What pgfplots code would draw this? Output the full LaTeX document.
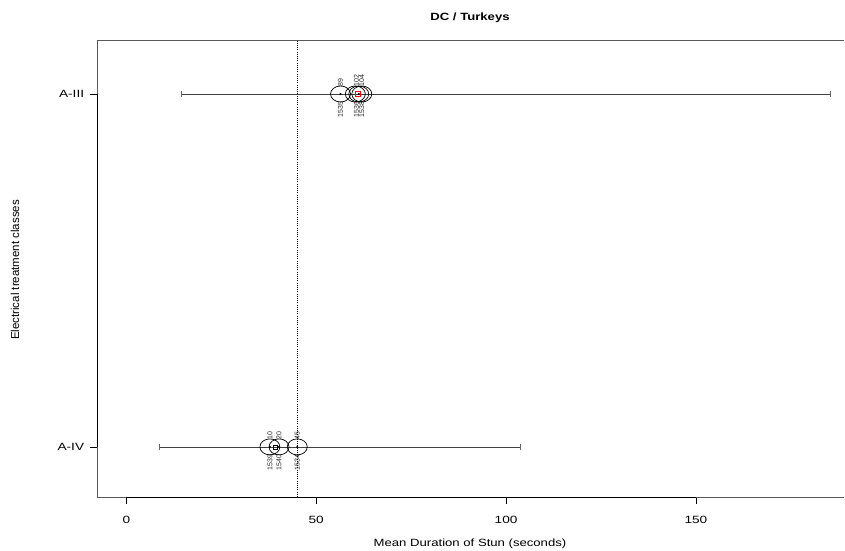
\documentclass[border=0pt]{standalone}
\usepackage{fontspec}
\setmainfont{Liberation Sans}
\usepackage{pgfplots}
\pgfplotsset{compat=1.18}
\begin{document}
\begin{tikzpicture}[x=1pt,y=1pt]
\begin{axis}[
  at={(0,0)}, anchor=south west,
  scale only axis, width=747pt, height=457pt,
  xmin=-7.74, xmax=189, ymin=0.858, ymax=2.153,
  axis x line=box, axis y line=left,
  axis line style={-, black!65, line width=0.6pt},
  xtick={0,50,100,150}, xtick pos=bottom,
  ytick={1,2}, yticklabels={A-IV,A-III},
  tick align=outside, major tick length=7pt,
  tick style={black, line width=0.6pt},
  tick label style={font=\fontsize{10.5}{12}\selectfont, xscale=1.3},
  xticklabel style={yshift=-8.5pt},
  yticklabel style={xshift=-1pt},
  /pgf/number format/assume math mode=true,
  clip=false,
]
% emphasised axis segments
\draw[black, line width=0.8pt] (axis cs:-7.74,1) -- (axis cs:-7.74,2);
\draw[black, line width=0.8pt] (axis cs:0,0.858) -- (axis cs:150,0.858);
% reference line
\addplot[black, line width=0.5pt, dash pattern=on 1pt off 1.2pt] coordinates {(44.9,0.858) (44.9,2.153)};
% ranges
\addplot[black!75, line width=0.7pt, mark=|, mark size=3pt, mark options={solid, black!60}] coordinates {(14.4,2) (185.3,2)};
\addplot[black!75, line width=0.7pt, mark=|, mark size=3pt, mark options={solid, black!60}] coordinates {(8.7,1) (103.8,1)};
% studies
\addplot[only marks, mark=o, mark size=10pt, mark options={yscale=0.8, line width=0.7pt, black}] table {
x y
56.4 2
60.3 2
61.2 2
62.0 2
37.8 1
40.2 1
45.0 1
};
\addplot[only marks, mark=*, mark size=0.8pt, black] table {
x y
56.4 2
61.2 2
37.8 1
40.2 1
45.0 1
};
\addplot[only marks, mark=square, mark size=2.8pt, red, mark options={line width=0.6pt}] coordinates {(60.9,2)};
\addplot[only marks, mark=square, mark size=2pt, black, mark options={line width=0.5pt}] coordinates {(39.3,1)};
% labels
\tikzset{lab/.style={font=\fontsize{7}{7}\selectfont, rotate=90, inner sep=0.5pt, text=black!85}}
\node[lab, anchor=west] at ([yshift=7pt]axis cs:56.4,2) {89};
\node[lab, anchor=west] at ([yshift=7pt]axis cs:60.6,2) {102};
\node[lab, anchor=west] at ([yshift=7pt]axis cs:62.0,2) {104};
\node[lab, anchor=east] at ([yshift=-7pt]axis cs:56.4,2) {1535};
\node[lab, anchor=east] at ([yshift=-7pt]axis cs:60.6,2) {1536};
\node[lab, anchor=east] at ([yshift=-7pt]axis cs:62.0,2) {1538};
\node[lab, anchor=west] at ([yshift=7pt]axis cs:37.8,1) {10};
\node[lab, anchor=west] at ([yshift=7pt]axis cs:40.2,1) {20};
\node[lab, anchor=west] at ([yshift=7pt]axis cs:45.0,1) {45};
\node[lab, anchor=east] at ([yshift=-7pt]axis cs:37.8,1) {1539};
\node[lab, anchor=east] at ([yshift=-7pt]axis cs:40.2,1) {1540};
\node[lab, anchor=east] at ([yshift=-7pt]axis cs:45.0,1) {1534};
\end{axis}
\node[font=\bfseries\fontsize{10.5}{12}\selectfont, xscale=1.25] at (373,479) {DC / Turkeys};
\node[font=\fontsize{10.5}{12}\selectfont, xscale=1.25] at (373,-47) {Mean Duration of Stun (seconds)};
\node[font=\fontsize{11.5}{12}\selectfont, rotate=90] at (-82,227) {Electrical treatment classes};
\pgfresetboundingbox
\path[use as bounding box] (-97,-53) rectangle (748,497);
\end{tikzpicture}
\end{document}
